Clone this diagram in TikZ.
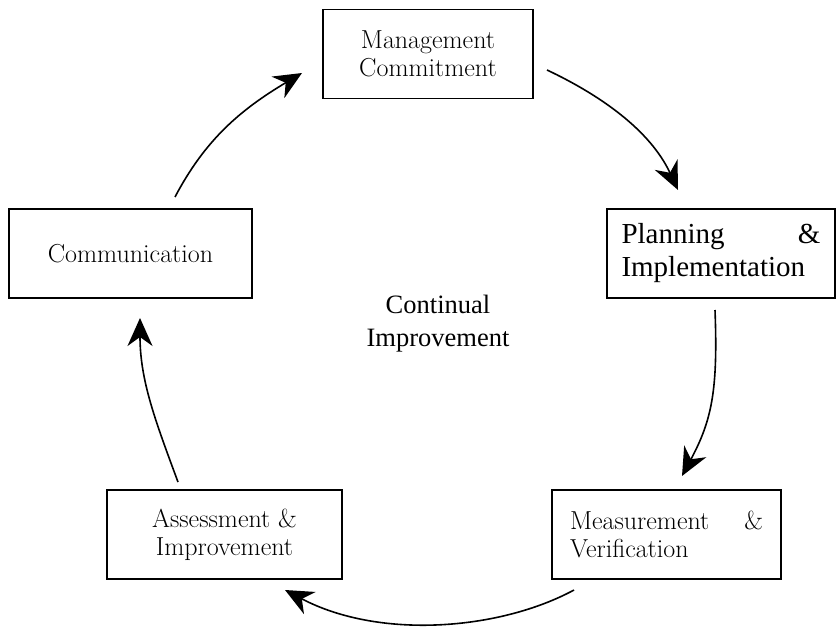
\documentclass[tikz,border=0pt]{standalone}
\usepackage{fontspec}
\newfontfamily\tms{Liberation Serif}
\usetikzlibrary{arrows.meta}
\begin{document}
\begin{tikzpicture}[x=1bp,y=-1bp,
  box/.style={draw,line width=1.4bp,inner sep=0pt,minimum height=89bp},
  garamond/.style={font=\fontsize{26bp}{28bp}\selectfont},
  times/.style={font=\tms\fontsize{29bp}{33bp}\selectfont},
  flow/.style={line width=1.6bp,-{Stealth[length=28bp,width=25bp,inset=9bp]}}]
\useasboundingbox (0,0) rectangle (837,629);

% the five stages
\node[box,garamond,minimum width=210bp,align=center] (mc) at (428,54)
  {Management\\Commitment};
\node[box,times,minimum width=228bp,text width=199bp,align=left] (pi) at (721,253.5)
  {Planning\hfill\&\\Implementation};
\node[box,garamond,minimum width=229bp,text width=193bp,align=left] (mv) at (666.5,534.5)
  {Measurement\hfill\&\\Verification};
\node[box,garamond,minimum width=235bp,align=center] (ai) at (224.5,534.5)
  {Assessment \&\\Improvement};
\node[box,garamond,minimum width=243bp] (cm) at (130.5,253.5)
  {Communication};

% centre label
\node[font=\tms\fontsize{26.5bp}{33bp}\selectfont,align=center] (ci) at (438,324)
  {Continual\\Improvement};

% free ends of the cycle arrows
\coordinate (mcout) at (547,70);   \coordinate (piin) at (678,190);
\coordinate (piout) at (715,310);  \coordinate (mvin) at (682,476);
\coordinate (mvout) at (574,590);  \coordinate (aiin) at (285,590);
\coordinate (aiout) at (178,482);  \coordinate (cmin) at (140,318);
\coordinate (cmout) at (175,197);  \coordinate (mcin) at (302,73);

% the cycle
\draw[flow] (mcout) .. controls (600,95) and (650,130) .. (piin);
\draw[flow] (piout) .. controls (718,390) and (712,420) .. (mvin);
\draw[flow] (mvout) .. controls (500,630) and (380,640) .. (aiin);
\draw[flow] (aiout) .. controls (155,420) and (140,380) .. (cmin);
\draw[flow] (cmout) .. controls (205,140) and (240,110) .. (mcin);
\end{tikzpicture}
\end{document}
